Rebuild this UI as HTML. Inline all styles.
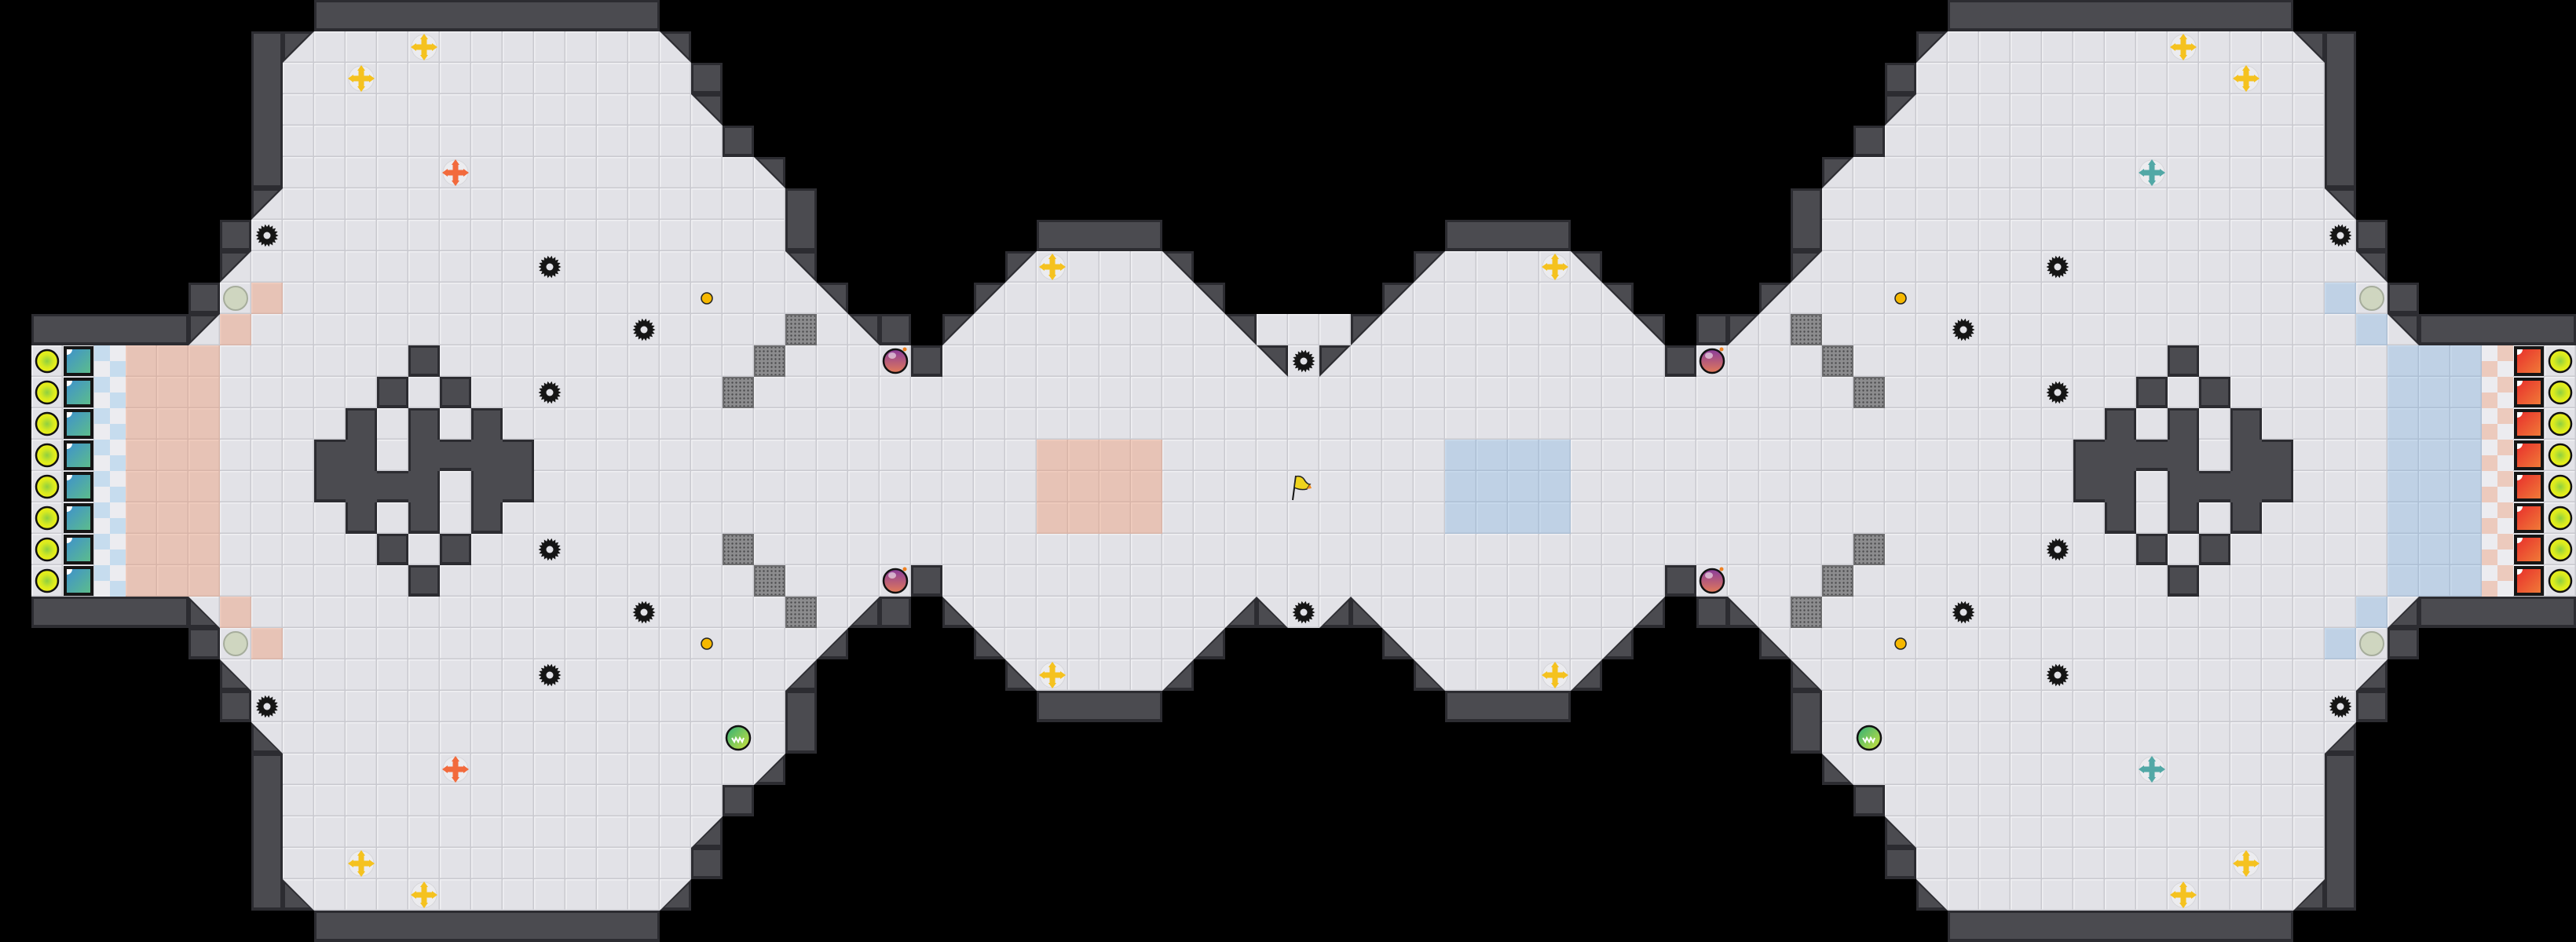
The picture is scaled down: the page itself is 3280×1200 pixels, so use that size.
<!DOCTYPE html>
<html><head><meta charset="utf-8"><style>
html,body{margin:0;padding:0;background:#000;width:3280px;height:1200px;overflow:hidden}
#m{display:block}
</style></head><body>
<div id="c"></div>
<script>
const g=[];for(let r=0;r<30;r++){g[r]=Array(83).fill(' ');}
function f(r,a,b,ch){for(let c=a;c<=b;c++)g[r][c]=ch;}
function s(r,c,ch){g[r][c]=ch;}
f(0,10,20,'#');
s(1,8,'#');s(1,9,'a');f(1,10,20,'.');s(1,21,'b');s(1,13,'P');
s(2,8,'#');f(2,9,21,'.');s(2,22,'#');s(2,11,'P');
s(3,8,'#');f(3,9,21,'.');s(3,22,'b');
s(4,8,'#');f(4,9,22,'.');s(4,23,'#');
s(5,8,'#');f(5,9,23,'.');s(5,24,'b');s(5,14,'O');
s(6,8,'a');f(6,9,24,'.');s(6,25,'#');
s(7,7,'#');f(7,8,24,'.');s(7,25,'#');s(7,8,'s');f(7,33,36,'#');
s(8,7,'a');f(8,8,24,'.');s(8,25,'b');s(8,17,'s');s(8,32,'a');f(8,33,36,'.');s(8,33,'P');s(8,37,'b');
s(9,6,'#');s(9,7,'g');s(9,8,'r');f(9,9,25,'.');s(9,22,'o');s(9,26,'b');s(9,31,'a');f(9,32,37,'.');s(9,38,'b');
f(10,1,5,'#');s(10,6,'a');s(10,7,'r');f(10,8,26,'.');s(10,20,'s');s(10,25,'G');s(10,27,'b');s(10,28,'#');s(10,30,'a');f(10,31,38,'.');s(10,39,'b');f(10,40,41,'.');
for(let r=11;r<=18;r++){s(r,1,'y');s(r,2,'t');s(r,3,'k');f(r,4,6,'r');f(r,7,41,'.');}
s(11,13,'#');s(11,24,'G');s(11,28,'B');s(11,29,'#');s(11,40,'b');s(11,41,'s');
s(12,12,'#');s(12,14,'#');s(12,17,'s');s(12,23,'G');
s(13,11,'#');s(13,13,'#');s(13,15,'#');
[10,11,13,14,15,16].forEach(c=>s(14,c,'#'));f(14,33,36,'r');
[10,11,12,13,15,16].forEach(c=>s(15,c,'#'));f(15,33,36,'r');s(15,41,'F');
[11,13,15].forEach(c=>s(16,c,'#'));f(16,33,36,'r');
s(17,12,'#');s(17,14,'#');s(17,17,'s');s(17,23,'G');
s(18,13,'#');s(18,24,'G');s(18,28,'B');s(18,29,'#');
const vm={a:'c',b:'d'};
for(let r=0;r<=10;r++){if(r===10){}}
for(let r=0;r<=10;r++){const t=29-r;if(t<19)continue;for(let c=0;c<=41;c++){const ch=g[r][c];g[t][c]=vm[ch]||ch;}}
s(19,40,'c');s(19,41,'s');s(23,23,'E');
const hm={a:'b',b:'a',c:'d',d:'c',r:'u',t:'R',k:'K',O:'T'};
for(let r=0;r<30;r++)for(let c=0;c<=40;c++){const ch=g[r][c];g[r][82-c]=hm[ch]||ch;}

const o=[];
const W='#4b4b50',D='#2c2c31';
const isW=(r,c)=>g[r]&&g[r][c]==='#';
for(let r=0;r<30;r++)for(let c=0;c<82;c++){const ch=g[r][c];if(ch===' '||ch==='#')continue;o.push(`<rect x="${c*40}" y="${r*40}" width="40" height="40" fill="url(#fl)"/>`);}
function spike(cx,cy){let p=[];for(let i=0;i<36;i++){let a=i*Math.PI/18;let rr=i%2?11:14.5;p.push((cx+rr*Math.cos(a)).toFixed(1)+','+(cy+rr*Math.sin(a)).toFixed(1));}return `<polygon points="${p.join(' ')}" fill="#151515"/><circle cx="${cx}" cy="${cy}" r="4.5" fill="#e2e2e7"/>`;}
function pu(cx,cy,col){return `<circle cx="${cx}" cy="${cy}" r="16" fill="#ececef" stroke="#d6d6da" stroke-width="1"/>
<rect x="${cx-3.5}" y="${cy-11}" width="7" height="22" fill="${col}"/><rect x="${cx-11}" y="${cy-3.5}" width="22" height="7" fill="${col}"/>
<polygon points="${cx},${cy-17} ${cx-5},${cy-10} ${cx+5},${cy-10}" fill="${col}"/><polygon points="${cx},${cy+17} ${cx-5},${cy+10} ${cx+5},${cy+10}" fill="${col}"/>
<polygon points="${cx-17},${cy} ${cx-10},${cy-5} ${cx-10},${cy+5}" fill="${col}"/><polygon points="${cx+17},${cy} ${cx+10},${cy-5} ${cx+10},${cy+5}" fill="${col}"/>`;}
for(let r=0;r<30;r++)for(let c=0;c<82;c++){
 const ch=g[r][c];const x=c*40,y=r*40,cx=x+20,cy=y+20;
 switch(ch){
 case '#':{const l=isW(r,c-1)?0:3,rt=isW(r,c+1)?0:3,t=isW(r-1,c)?0:3,b=isW(r+1,c)?0:4;
  o.push(`<rect x="${x}" y="${y}" width="40" height="40" fill="${D}"/><rect x="${x+l}" y="${y+t}" width="${40-l-rt}" height="${40-t-b}" fill="${W}"/>`);break;}
 case 'a':o.push(`<polygon points="${x},${y} ${x+40},${y} ${x},${y+40}" fill="${D}"/><polygon points="${x+3},${y+3} ${x+34},${y+3} ${x+3},${y+34}" fill="${W}"/>`);break;
 case 'b':o.push(`<polygon points="${x},${y} ${x+40},${y} ${x+40},${y+40}" fill="${D}"/><polygon points="${x+6},${y+3} ${x+37},${y+3} ${x+37},${y+34}" fill="${W}"/>`);break;
 case 'c':o.push(`<polygon points="${x},${y} ${x},${y+40} ${x+40},${y+40}" fill="${D}"/><polygon points="${x+3},${y+6} ${x+3},${y+36} ${x+34},${y+36}" fill="${W}"/>`);break;
 case 'd':o.push(`<polygon points="${x+40},${y} ${x+40},${y+40} ${x},${y+40}" fill="${D}"/><polygon points="${x+37},${y+6} ${x+37},${y+36} ${x+6},${y+36}" fill="${W}"/>`);break;
 case 'r':o.push(`<rect x="${x}" y="${y}" width="40" height="40" fill="rgba(240,150,110,0.4)"/>`);break;
 case 'u':o.push(`<rect x="${x}" y="${y}" width="40" height="40" fill="rgba(110,170,225,0.3)"/>`);break;
 case 'k':o.push(`<rect x="${x}" y="${y}" width="40" height="40" fill="#ececf0"/><rect x="${x}" y="${y}" width="20" height="20" fill="#c6dcee"/><rect x="${x+20}" y="${y+20}" width="20" height="20" fill="#c6dcee"/>`);break;
 case 'K':o.push(`<rect x="${x}" y="${y}" width="40" height="40" fill="#ececf0"/><rect x="${x+20}" y="${y}" width="20" height="20" fill="#eccabd"/><rect x="${x}" y="${y+20}" width="20" height="20" fill="#eccabd"/>`);break;
 case 'y':o.push(`<circle cx="${cx}" cy="${cy}" r="14" fill="url(#yb)" stroke="#111" stroke-width="2.5"/>`);break;
 case 't':case 'R':o.push(`<rect x="${x+1}" y="${y+1}" width="38" height="38" fill="#151515"/><rect x="${x+5}" y="${y+5}" width="30" height="30" fill="url(#${ch==='t'?'tg':'rg'})"/><path d="M${x+5},${y+5} h7 a7,7 0 0 1 -7,7 z" fill="#fff"/>`);break;
 case 's':o.push(spike(cx,cy));break;
 case 'g':o.push(`<circle cx="${cx}" cy="${cy}" r="15" fill="#cfd6c0" stroke="#a6ad9c" stroke-width="2"/>`);break;
 case 'o':o.push(`<circle cx="${cx}" cy="${cy}" r="7" fill="#f6b800" stroke="#222" stroke-width="1.5"/>`);break;
 case 'G':o.push(`<rect x="${x}" y="${y}" width="40" height="40" fill="#6e6e70"/><rect x="${x+2}" y="${y+2}" width="36" height="36" fill="url(#gr)"/>`);break;
 case 'B':o.push(`<circle cx="${cx}" cy="${cy}" r="15" fill="url(#bg)" stroke="#111" stroke-width="2.5"/><ellipse cx="${cx-4}" cy="${cy-7}" rx="5" ry="4" fill="#fff" opacity=".55"/><circle cx="${cx+12}" cy="${cy-15}" r="2.5" fill="#f08020"/>`);break;
 case 'E':o.push(`<circle cx="${cx}" cy="${cy}" r="15" fill="url(#eg)" stroke="#111" stroke-width="2.5"/><path d="M${cx-8},${cy} l3,5 l2,-5 l3,5 l2,-5 l3,5 l2,-5" fill="none" stroke="#fff" stroke-width="2"/>`);break;
 case 'P':o.push(pu(cx,cy,'#f5c21f'));break;
 case 'O':o.push(pu(cx,cy,'#f26a3c'));break;
 case 'T':o.push(pu(cx,cy,'#52a8a6'));break;
 case 'F':o.push(`<line x1="${x+6}" y1="${y+37}" x2="${x+10}" y2="${y+6}" stroke="#111" stroke-width="2"/><path d="M${x+10},${y+7} q8,-2 12,6 q3,4 6,4 l-4,6 q-8,2 -16,-2 z" fill="#f0d41c" stroke="#222" stroke-width="1.5"/><path d="M${x+28},${y+17} l-4,6 l6,-1 z" fill="#f08a20"/>`);break;
 }
}
document.getElementById('c').innerHTML=`<svg id="m" xmlns="http://www.w3.org/2000/svg" width="3280" height="1200" viewBox="0 0 3280 1200">
<defs>
<pattern id="fl" width="40" height="40" patternUnits="userSpaceOnUse"><rect width="40" height="40" fill="#e2e2e7"/><rect width="40" height="1.5" fill="#f0f0f3"/><rect width="1.5" height="40" fill="#f0f0f3"/><rect x="38.5" width="1.5" height="40" fill="#c9c9cf"/><rect y="38.5" width="40" height="1.5" fill="#c9c9cf"/></pattern>
<pattern id="gr" width="5" height="5" patternUnits="userSpaceOnUse"><rect width="5" height="5" fill="#8c8c8e"/><circle cx="2.5" cy="2.5" r="1.2" fill="#4a4a4c"/></pattern>
<radialGradient id="yb"><stop offset="0" stop-color="#8fd040"/><stop offset=".6" stop-color="#d8ea20"/><stop offset="1" stop-color="#eef018"/></radialGradient>
<linearGradient id="tg" x1="0" y1="0" x2="1" y2="1"><stop offset="0" stop-color="#3f92cc"/><stop offset="1" stop-color="#5cbc8c"/></linearGradient>
<linearGradient id="rg" x1="0" y1="0" x2="1" y2="1"><stop offset="0" stop-color="#e8302c"/><stop offset="1" stop-color="#f07a38"/></linearGradient>
<linearGradient id="bg" x1="0" y1="0" x2="0" y2="1"><stop offset="0" stop-color="#8a3c9c"/><stop offset="1" stop-color="#e27a58"/></linearGradient>
<linearGradient id="eg" x1="0" y1="0" x2="1" y2="1"><stop offset="0" stop-color="#2eae7a"/><stop offset="1" stop-color="#d0e43a"/></linearGradient>
</defs>
<rect width="3280" height="1200" fill="#000"/>
${o.join('')}
</svg>`;
</script>
</body></html>
